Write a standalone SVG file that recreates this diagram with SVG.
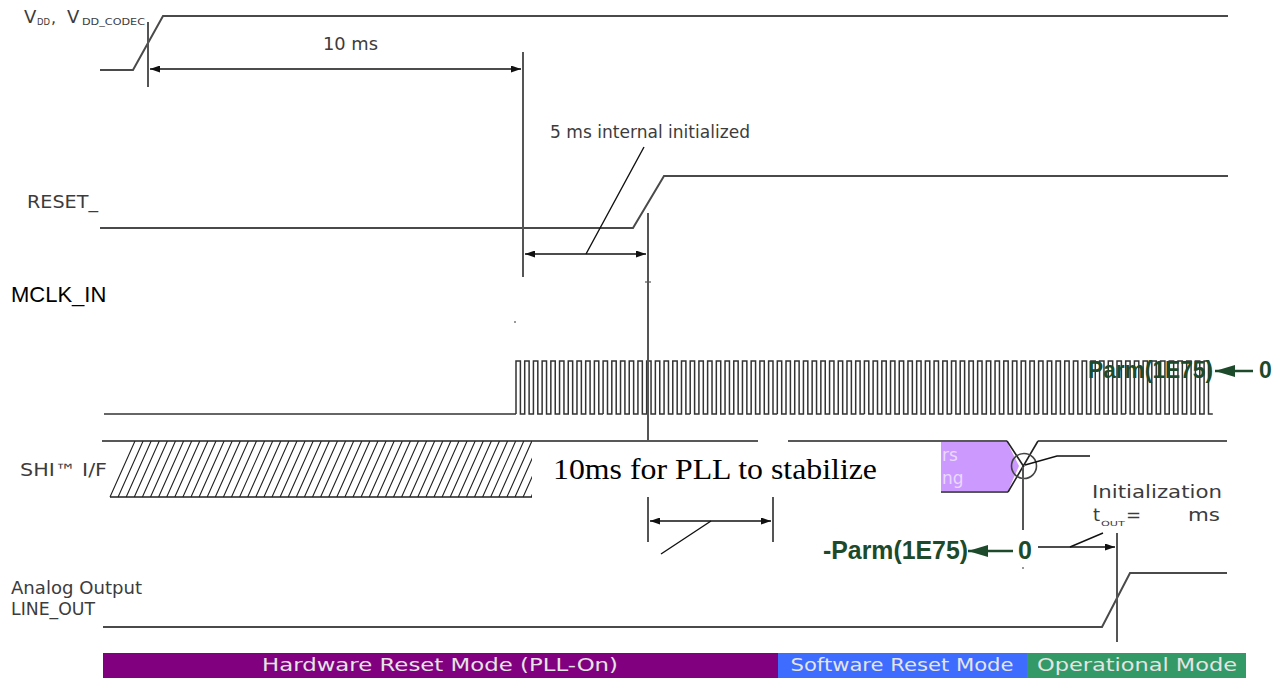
<svg xmlns="http://www.w3.org/2000/svg" width="1282" height="678" viewBox="0 0 1282 678">
<style>
.sig{fill:none;stroke:#4a4a4a;stroke-width:2}
.ref{fill:none;stroke:#555;stroke-width:2}
.dim{fill:none;stroke:#111;stroke-width:1.4}
.lbl{font-family:"DejaVu Sans",sans-serif;fill:#3c3c3c}
.grn{font-family:"Liberation Sans",Arial,sans-serif;font-weight:bold;fill:#1d4a2a}
.bar{font-family:"DejaVu Sans",sans-serif;fill:#e4e4e4;font-size:17px;text-anchor:middle}
.clk{fill:none;stroke:#333;stroke-width:1.5}
</style>
<defs>
<marker id="ah" viewBox="0 0 10 7" refX="10" refY="3.5" markerWidth="10" markerHeight="7" markerUnits="userSpaceOnUse" orient="auto-start-reverse"><path d="M0,0L10,3.5L0,7z" fill="#111"/></marker>
<marker id="gh" viewBox="0 0 20 12" refX="20" refY="6" markerWidth="20" markerHeight="12" markerUnits="userSpaceOnUse" orient="auto"><path d="M0,0L20,6L0,12z" fill="#1d4a2a"/></marker>
<clipPath id="hc"><rect x="100" y="441" width="432" height="57"/></clipPath>
<path id="p10" class="clk" d="M0,0
v-53h4.4v53h4.31
v-53h4.4v53h4.31
v-53h4.4v53h4.31
v-53h4.4v53h4.31
v-53h4.4v53h4.31
v-53h4.4v53h4.31
v-53h4.4v53h4.31
v-53h4.4v53h4.31
v-53h4.4v53h4.31
v-53h4.4v53h4.31"/>
<path id="h10" d="M0,0
l25,-56m-16.9,56
l25,-56m-16.9,56
l25,-56m-16.9,56
l25,-56m-16.9,56
l25,-56m-16.9,56
l25,-56m-16.9,56
l25,-56m-16.9,56
l25,-56m-16.9,56
l25,-56m-16.9,56
l25,-56m-16.9,56" fill="none" stroke="#222" stroke-width="1.1"/>
</defs>
<rect width="1282" height="678" fill="#fff"/>

<g id="vdd">
<text class="lbl" x="24" y="23" font-size="18">V</text>
<text class="lbl" x="37" y="25" font-size="8" textLength="13" lengthAdjust="spacingAndGlyphs">DD</text>
<text class="lbl" x="51" y="23" font-size="16">,</text>
<text class="lbl" x="67" y="23" font-size="18">V</text>
<text class="lbl" x="82" y="25" font-size="8" textLength="63" lengthAdjust="spacingAndGlyphs">DD_CODEC</text>
<polyline class="sig" points="100,70 133,70 163,16 1228,16"/>
</g>

<g id="reset">
<text class="lbl" x="27" y="208" font-size="17" textLength="71" lengthAdjust="spacingAndGlyphs">RESET_</text>
<polyline class="sig" points="100,228 633,228 664,176 1228,176"/>
</g>

<g id="mclk">
<text x="11" y="302" font-family="Liberation Sans,Arial,sans-serif" font-size="22" fill="#000">MCLK_IN</text>
<path class="clk" d="M104,414H516"/>
<use href="#p10" x="516" y="414"/>
<use href="#p10" x="603.1" y="414"/>
<use href="#p10" x="690.2" y="414"/>
<use href="#p10" x="777.3" y="414"/>
<use href="#p10" x="864.4" y="414"/>
<use href="#p10" x="951.5" y="414"/>
<use href="#p10" x="1038.6" y="414"/>
<use href="#p10" x="1125.7" y="414"/>
<circle cx="515" cy="322" r="1" fill="#777"/>
</g>

<g id="shi">
<text class="lbl" x="20" y="476" font-size="17" textLength="87" lengthAdjust="spacingAndGlyphs">SHI™ I/F</text>
<g clip-path="url(#hc)">
<use href="#h10" x="110" y="497"/>
<use href="#h10" x="191" y="497"/>
<use href="#h10" x="272" y="497"/>
<use href="#h10" x="353" y="497"/>
<use href="#h10" x="434" y="497"/>
<use href="#h10" x="515" y="497"/>
</g>
<path d="M102,441H758M788,441H1007M1038,441H1227M110,497H532M941,492H1008" fill="none" stroke="#222" stroke-width="1.6"/>
<polygon points="941,442 1007,442 1019,466 1008,491 941,491" fill="#cc99ff"/>
<text x="942" y="461" font-family="DejaVu Sans,sans-serif" font-size="17" fill="#ead9ff">rs</text>
<text x="942" y="484" font-family="DejaVu Sans,sans-serif" font-size="17" fill="#ead9ff">ng</text>
<path d="M1007,441L1024,467M1038,441L1008,492" fill="none" stroke="#222" stroke-width="1.6"/>
<circle cx="1024" cy="466" r="12.5" fill="none" stroke="#444" stroke-width="1.6"/>
<text x="553" y="479" font-family="Liberation Serif,Times New Roman,serif" font-size="30" fill="#000" textLength="324" lengthAdjust="spacingAndGlyphs">10ms for PLL to stabilize</text>
</g>

<g id="lineout">
<text class="lbl" x="11" y="594" font-size="17" textLength="131" lengthAdjust="spacingAndGlyphs">Analog Output</text>
<text class="lbl" x="11" y="615" font-size="17" textLength="84" lengthAdjust="spacingAndGlyphs">LINE_OUT</text>
<polyline class="sig" points="103,627 1102,627 1130,573 1227,573"/>
</g>

<g id="annotations">
<text class="lbl" x="323" y="50" font-size="17" textLength="55" lengthAdjust="spacingAndGlyphs">10 ms</text>
<text class="lbl" x="550" y="138" font-size="17" textLength="200" lengthAdjust="spacingAndGlyphs">5 ms internal initialized</text>
<text class="lbl" x="1092" y="498" font-size="18" textLength="130" lengthAdjust="spacingAndGlyphs">Initialization</text>
<text class="lbl" x="1093" y="521" font-size="18">t</text>
<text class="lbl" x="1101" y="526" font-size="7" textLength="24" lengthAdjust="spacingAndGlyphs">OUT</text>
<text class="lbl" x="1126" y="521" font-size="18">=</text>
<text class="lbl" x="1188" y="521" font-size="18" textLength="32" lengthAdjust="spacingAndGlyphs">ms</text>
<text class="grn" x="1088" y="378" font-size="23" textLength="125" lengthAdjust="spacingAndGlyphs">Parm(1E75)</text>
<text class="grn" x="1259" y="378" font-size="23">0</text>
<text class="grn" x="823" y="559" font-size="25" textLength="145" lengthAdjust="spacingAndGlyphs">-Parm(1E75)</text>
<text class="grn" x="1018" y="559" font-size="25">0</text>
</g>

<g id="connectors">
<path class="ref" d="M148,22V87M523,52V277M648,213V440M648,497V542M773,497V542M1023,467V530M1117,533V642"/>
<path d="M645,282H651" stroke="#555" stroke-width="1.2"/>
<circle cx="1023" cy="568" r="1" fill="#777"/>
<line class="dim" x1="150" y1="69" x2="521" y2="69" marker-start="url(#ah)" marker-end="url(#ah)"/>
<line class="dim" x1="525" y1="254" x2="646" y2="254" marker-start="url(#ah)" marker-end="url(#ah)"/>
<line class="dim" x1="650" y1="521" x2="771" y2="521" marker-start="url(#ah)" marker-end="url(#ah)"/>
<line class="dim" x1="1038" y1="547" x2="1115" y2="547" marker-end="url(#ah)"/>
<path class="dim" d="M644,147L586,254M711,521L661,554M1070,547L1103,533M1025,465L1057,456H1090"/>
<line x1="1253" y1="371" x2="1215" y2="371" stroke="#1d4a2a" stroke-width="2.5" marker-end="url(#gh)"/>
<line x1="1013" y1="551" x2="968" y2="551" stroke="#1d4a2a" stroke-width="2.5" marker-end="url(#gh)"/>
</g>

<g id="modes">
<rect x="103" y="653" width="675" height="25" fill="#800080"/>
<rect x="778" y="653" width="249" height="25" fill="#3d6cff"/>
<rect x="1027" y="653" width="219" height="25" fill="#339966"/>
<text class="bar" x="440" y="671" textLength="356" lengthAdjust="spacingAndGlyphs">Hardware Reset Mode (PLL-On)</text>
<text class="bar" x="902" y="671" textLength="223" lengthAdjust="spacingAndGlyphs">Software Reset Mode</text>
<text class="bar" x="1137" y="671" textLength="200" lengthAdjust="spacingAndGlyphs">Operational Mode</text>
</g>
</svg>
